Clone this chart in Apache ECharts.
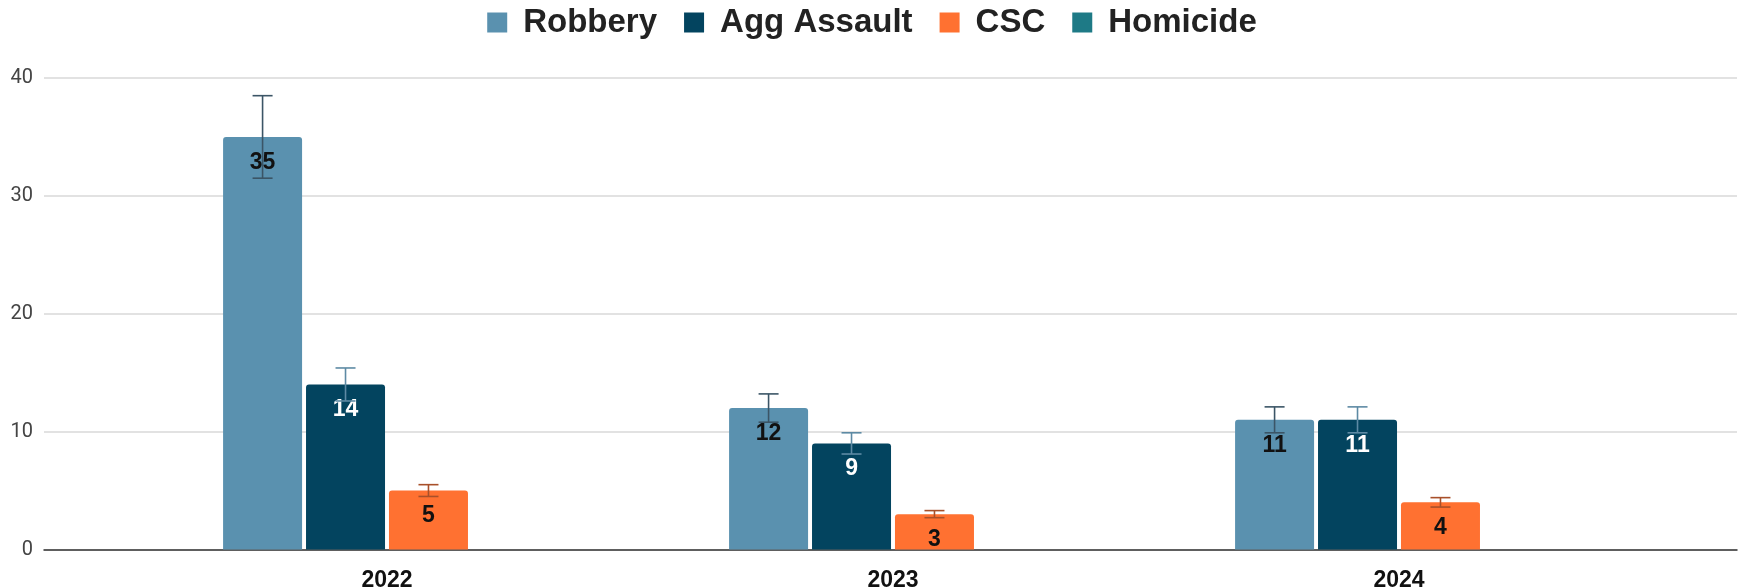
<!DOCTYPE html>
<html>
<head>
<meta charset="UTF-8">
<title>Crime by year</title>
<style type="text/css">
   html, body{
      margin:0;
      padding:0;
      background-color:#ffffff;
   }
   #container{
      width:1744px;
      height:587px;
   }
</style>
</head>
<body>
<div id="container"></div>
<script src="https://cdn.jsdelivr.net/npm/echarts@6/dist/echarts.min.js"></script>
<script type="text/javascript">
// data
var years = ['2022', '2023', '2024'];
var seriesNames = ['Robbery', 'Agg Assault', 'CSC', 'Homicide'];
var robbery = [35, 12, 11];
var aggAssault = [14, 9, 11];
var csc = [5, 3, 4];
var homicide = [null, null, null];
// error bar half heights
var robberyErr = [3.5, 1.2, 1.1];
var aggAssaultErr = [1.4, 0.9, 1.1];
var cscErr = [0.5, 0.3, 0.4];
var yTicks = [0, 10, 20, 30, 40];

var colors = ['#5A91AF', '#03445F', '#FF7131', '#1E7A86'];
var errColors = ['#3B5566', '#5D8AA4', '#A8502A'];
var labelColors = ['#111111', '#ffffff', '#111111', '#111111'];

var barWidth = 79;
var barStep = barWidth * 1.05;

var dom = document.getElementById("container");
var myChart = echarts.init(dom);

var values = [robbery, aggAssault, csc, homicide];
var errs = [robberyErr, aggAssaultErr, cscErr];

var series = [];
for (var k = 0; k < seriesNames.length; k++) {
    series.push({
        name: seriesNames[k],
        type: 'bar',
        xAxisIndex: 1,
        yAxisIndex: 1,
        barWidth: barWidth,
        barGap: '5%',
        data: values[k],
        itemStyle: { color: colors[k], borderRadius: [3, 3, 0, 0] },
        label: {
            show: true,
            position: 'insideTop',
            distance: 14,
            fontFamily: 'Liberation Sans, Arial',
            fontWeight: 'bold',
            fontSize: 23,
            color: labelColors[k]
        }
    });
}

// error bars drawn on top of the bars
for (var s = 0; s < errs.length; s++) {
    var errData = [];
    for (var i = 0; i < years.length; i++) {
        errData.push([i, values[s][i], errs[s][i], s]);
    }
    series.push({
        name: seriesNames[s] + ' err',
        type: 'custom',
        xAxisIndex: 1,
        yAxisIndex: 1,
        z: 5,
        silent: true,
        data: errData,
        renderItem: function (params, api) {
            var cat = api.value(0), v = api.value(1), e = api.value(2), idx = api.value(3);
            var c = api.coord([cat, v]);
            var x = c[0] + (idx - 1.5) * barStep;
            var top = api.coord([cat, v + e])[1];
            var bot = api.coord([cat, v - e])[1];
            var st = { stroke: errColors[idx], lineWidth: 1.6 };
            return {
                type: 'group',
                children: [
                    { type: 'line', shape: { x1: x, y1: top, x2: x, y2: bot }, style: st },
                    { type: 'line', shape: { x1: x - 10, y1: top, x2: x + 10, y2: top }, style: st },
                    { type: 'line', shape: { x1: x - 10, y1: bot, x2: x + 10, y2: bot }, style: st }
                ]
            };
        }
    });
}

var option = {
    animation: false,
    legend: {
        data: seriesNames,
        top: 1,
        left: 'center',
        icon: 'rect',
        itemWidth: 20,
        itemHeight: 20,
        itemGap: 27,
        textStyle: {
            fontFamily: 'Liberation Sans, Arial',
            fontWeight: 'bold',
            fontSize: 33,
            color: '#222222',
            padding: [0, 0, 0, 11]
        }
    },
    grid: [
        { left: 44, right: 7, top: 78, bottom: 37.5, outerBoundsMode: 'none' },
        { left: 134, right: 92, top: 78, bottom: 37.5, outerBoundsMode: 'none' }
    ],
    xAxis: [
        {
            type: 'category',
            gridIndex: 0,
            data: [''],
            axisLine: { lineStyle: { color: '#333333', width: 1.5 } },
            axisTick: { show: false },
            axisLabel: { show: false }
        },
        {
            type: 'category',
            gridIndex: 1,
            data: years,
            axisLine: { show: false },
            axisTick: { show: false },
            axisLabel: {
                margin: 20,
                fontFamily: 'Liberation Sans, Arial',
                fontWeight: 'bold',
                fontSize: 23,
                color: '#111111'
            }
        }
    ],
    yAxis: [
        {
            type: 'value',
            gridIndex: 0,
            min: yTicks[0],
            max: yTicks[yTicks.length - 1],
            interval: 10,
            axisLine: { show: false },
            axisTick: { show: false },
            axisLabel: {
                margin: 11,
                fontFamily: 'Roboto, Arial',
                fontSize: 20,
                color: '#444444'
            },
            splitLine: { lineStyle: { color: '#D9D9D9', width: 1.5 } }
        },
        {
            type: 'value',
            gridIndex: 1,
            min: yTicks[0],
            max: yTicks[yTicks.length - 1],
            interval: 10,
            show: false,
            splitLine: { show: false }
        }
    ],
    series: series
};

myChart.setOption(option, true);
</script>
</body>
</html>
